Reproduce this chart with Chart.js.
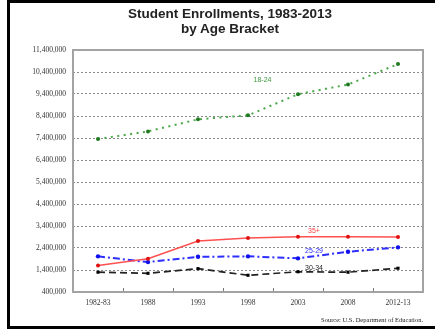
<!DOCTYPE html>
<html>
<head>
<meta charset="utf-8">
<script src="https://cdn.jsdelivr.net/npm/chart.js@4.4.0/dist/chart.umd.min.js"></script>
<style>
  html, body { margin: 0; padding: 0; background: #fff; }
  #wrap { position: relative; width: 435px; height: 329px; overflow: hidden; }
  canvas { position: absolute; left: 0; top: 0; }
  #title { position: absolute; left: 30px; top: 7px; width: 400px; text-align: center;
           font: bold 13.5px "Liberation Sans", Arial, sans-serif; line-height: 14.6px; color: #222; }
  #frame { position: absolute; left: 7px; top: 0; width: 428px; height: 329px;
           border-left: 3px solid #000; border-top: 3px solid #000; border-bottom: 3px solid #000;
           box-sizing: border-box; pointer-events: none; }
</style>
</head>
<body>
<div id="wrap">
  <canvas id="c" width="435" height="329"></canvas>
  <div id="title"></div>
  <div id="frame"></div>
</div>
<script>
// ---- data ----
const titleLines = ['Student Enrollments, 1983-2013', 'by Age Bracket'];
const sourceNote = 'Source: U.S. Department of Education.';
const categories = ['1982-83', '1988', '1993', '1998', '2003', '2008', '2012-13'];
const age18to24 = [7350000, 7700000, 8250000, 8430000, 9390000, 9830000, 10760000];
const age35plus = [1600000, 1910000, 2720000, 2850000, 2910000, 2910000, 2900000];
const age25to29 = [2020000, 1760000, 2000000, 2020000, 1930000, 2230000, 2430000];
const age30to34 = [1300000, 1250000, 1460000, 1160000, 1320000, 1300000, 1480000];
const seriesNames = ['18-24', '35+', '25-29', '30-34'];
const yMin = 400000, yMax = 11400000, yStep = 1000000;

document.getElementById('title').innerHTML = titleLines.join('<br>');

// inline series labels (anchor in category index / value units)
const inlineLabels = [
  { text: seriesNames[0], color: '#3c9a3c', idx: 3.29, val: 10040000 },
  { text: seriesNames[1], color: '#ff3b3b', idx: 4.32, val: 3170000 },
  { text: seriesNames[2], color: '#2b2bff', idx: 4.32, val: 2260000 },
  { text: seriesNames[3], color: '#222222', idx: 4.32, val: 1490000 }
];

const framePlugin = {
  id: 'frame',
  beforeDatasetsDraw(chart) {
    const { ctx, chartArea: a, scales } = chart;
    ctx.save();
    ctx.strokeStyle = '#a3a3a3';
    ctx.lineWidth = 2;
    ctx.strokeRect(a.left, a.top, a.right - a.left, a.bottom - a.top);
    // inward tick marks between categories
    ctx.lineWidth = 1;
    ctx.strokeStyle = '#777';
    const xs = scales.x;
    for (let i = 0; i < categories.length - 1; i++) {
      const x = Math.round((xs.getPixelForValue(i) + xs.getPixelForValue(i + 1)) / 2) + 0.5;
      ctx.beginPath();
      ctx.moveTo(x, a.bottom - 1);
      ctx.lineTo(x, a.bottom - 4);
      ctx.stroke();
    }
    ctx.restore();
  },
  afterDatasetsDraw(chart) {
    const { ctx, scales } = chart;
    ctx.save();
    ctx.font = '7px "Liberation Sans", Arial, sans-serif';
    ctx.textAlign = 'center';
    ctx.textBaseline = 'middle';
    inlineLabels.forEach(l => {
      ctx.fillStyle = l.color;
      ctx.fillText(l.text, scales.x.getPixelForValue(l.idx), scales.y.getPixelForValue(l.val));
    });
    ctx.restore();
  }
};

new Chart(document.getElementById('c'), {
  type: 'line',
  data: {
    labels: categories,
    datasets: [
      { label: seriesNames[0], data: age18to24, borderColor: '#4aa84a', borderWidth: 2,
        borderDash: [2, 4.5], pointRadius: 2, pointBackgroundColor: '#1f7a1f', pointBorderWidth: 0, tension: 0 },
      { label: seriesNames[1], data: age35plus, borderColor: '#ff5050', borderWidth: 1.5,
        pointRadius: 2, pointBackgroundColor: '#e01010', pointBorderWidth: 0, tension: 0 },
      { label: seriesNames[2], data: age25to29, borderColor: '#2e2eff', borderWidth: 2,
        borderDash: [7, 3, 2, 3], pointRadius: 2.2, pointBackgroundColor: '#1010ee', pointBorderWidth: 0, tension: 0 },
      { label: seriesNames[3], data: age30to34, borderColor: '#222', borderWidth: 1.7,
        borderDash: [7, 4], pointRadius: 2.2, pointStyle: 'rect', pointBackgroundColor: '#000', pointBorderWidth: 0, tension: 0 }
    ]
  },
  options: {
    responsive: false,
    animation: false,
    devicePixelRatio: 1,
    layout: { padding: { left: 0, right: 12, top: 50, bottom: 0 } },
    plugins: {
      legend: { display: false },
      tooltip: { enabled: false },
      title: { display: false },
      subtitle: {
        display: true,
        position: 'bottom',
        align: 'end',
        text: sourceNote,
        color: '#222',
        font: { family: '"Liberation Serif", "Times New Roman", serif', size: 6.5, lineHeight: 1.2 },
        padding: { top: 4, bottom: 5.2 }
      }
    },
    scales: {
      x: {
        type: 'category',
        offset: true,
        grid: { display: false, drawTicks: false },
        border: { display: false },
        ticks: { color: '#333', font: { family: '"Liberation Serif", "Times New Roman", serif', size: 7.5 }, padding: 7, maxRotation: 0, autoSkip: false },
        afterFit(s) { s.height = 20; }
      },
      y: {
        min: yMin, max: yMax,
        grid: { color: '#8a8a8a', lineWidth: 1, drawTicks: false, borderDash: [2, 2] },
        border: { display: false, dash: [2, 2] },
        ticks: {
          stepSize: yStep, color: '#333', padding: 7,
          font: { family: '"Liberation Serif", "Times New Roman", serif', size: 7.5 },
          callback: v => v.toLocaleString('en-US')
        },
        afterFit(s) { s.width = 73; }
      }
    }
  },
  plugins: [framePlugin]
});
</script>
</body>
</html>
